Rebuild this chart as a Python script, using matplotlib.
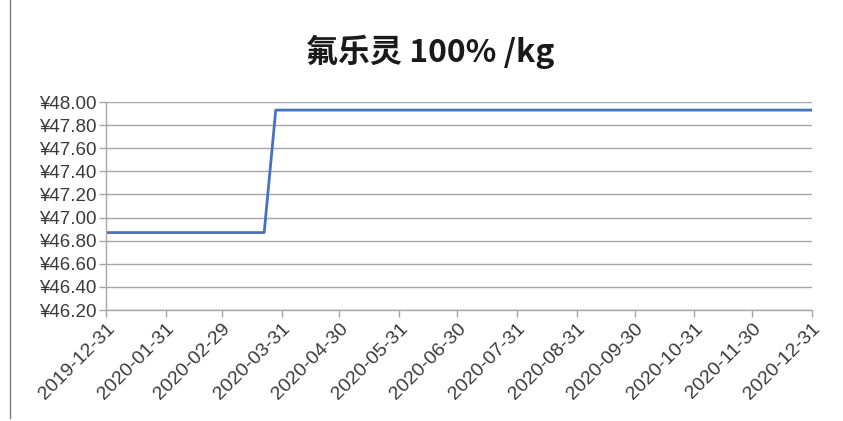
import matplotlib
matplotlib.use('Agg')
import matplotlib.pyplot as plt
from matplotlib.ticker import FuncFormatter
import pandas as pd

plt.rcParams['font.family'] = ['Noto Sans CJK SC', 'DejaVu Sans']

# Data
dates = ['2019-12-31', '2020-03-22', '2020-03-28', '2020-12-31']
prices = [46.87, 46.87, 47.93, 47.93]
tick_dates = ['2019-12-31', '2020-01-31', '2020-02-29', '2020-03-31', '2020-04-30',
              '2020-05-31', '2020-06-30', '2020-07-31', '2020-08-31', '2020-09-30',
              '2020-10-31', '2020-11-30', '2020-12-31']
y_ticks = [46.2, 46.4, 46.6, 46.8, 47.0, 47.2, 47.4, 47.6, 47.8, 48.0]
title = '氟乐灵 100% /kg'

x = pd.to_datetime(dates)
xt = pd.to_datetime(tick_dates)

fig = plt.figure(figsize=(8.43, 4.21), dpi=100)
ax = fig.add_axes([106 / 843, 1 - 310 / 421, (812 - 106) / 843, (310 - 102) / 421])

ax.plot(x, prices, color='#4472C4', linewidth=2.0)

ax.set_xlim(xt[0], xt[-1])
ax.set_ylim(46.2, 48.0)
ax.set_yticks(y_ticks)
ax.yaxis.set_major_formatter(FuncFormatter(lambda v, p: '¥%.2f' % v))
ax.set_xticks(xt)
ax.set_xticklabels(tick_dates, rotation=45, ha='right', rotation_mode='anchor')

ax.grid(axis='y', color='#a6a6a6', linewidth=1.0)
ax.set_axisbelow(True)
for s in ['top', 'right']:
    ax.spines[s].set_visible(False)
for s in ['left', 'bottom']:
    ax.spines[s].set_color('#a6a6a6')
    ax.spines[s].set_linewidth(1.0)
ax.tick_params(axis='both', colors='#a6a6a6', length=5, width=1.0, pad=2)
ax.tick_params(axis='both', labelcolor='#3a3a3a')
for lab in ax.get_yticklabels():
    lab.set_family(['Liberation Sans', 'DejaVu Sans'])
    lab.set_fontsize(13.5)
for lab in ax.get_xticklabels():
    lab.set_family(['Liberation Sans', 'DejaVu Sans'])
    lab.set_fontsize(14)

fig.text(0.51, 1 - 52 / 421, title, ha='center', va='center', fontsize=23,
         fontweight='bold', color='#1a1a1a')

# left border of the chart frame
fig.add_artist(plt.Line2D([10 / 843, 10 / 843], [1 - 418 / 421, 1.0],
                          color='#808080', linewidth=1.0))

fig.savefig('out.png', dpi=100, facecolor='white')
